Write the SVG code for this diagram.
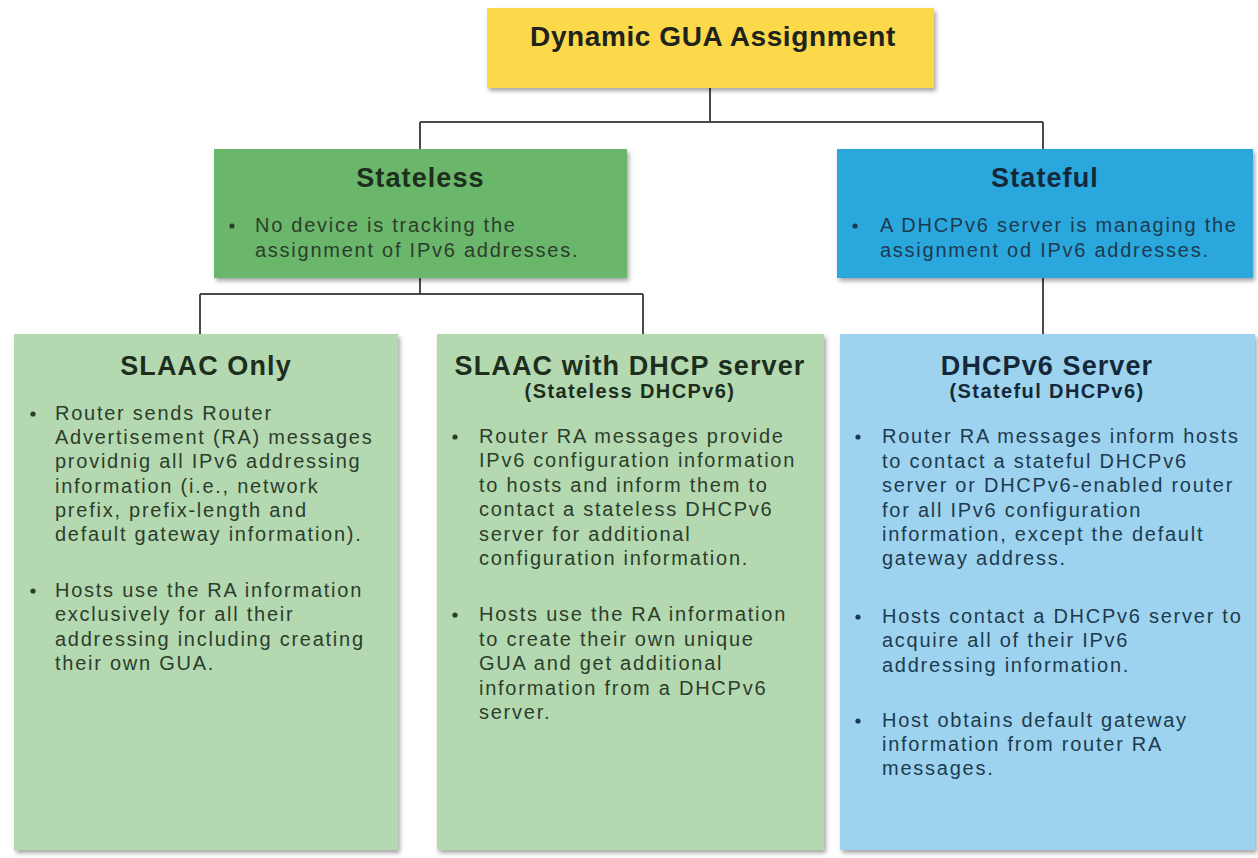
<svg xmlns="http://www.w3.org/2000/svg" width="1258" height="858" viewBox="0 0 1258 858">
<style>
.h{font-family:"Liberation Sans",Arial,sans-serif;font-weight:bold;text-anchor:middle;fill:#1e231e}
.h0{font-size:28px;letter-spacing:0.6px}
.h1{font-size:27px;letter-spacing:1.1px}
.h2{font-size:20px;letter-spacing:1.4px}
.t{font-family:"Liberation Sans",Arial,sans-serif;font-size:20px;letter-spacing:1.75px}
.g{fill:#2c3d2c}
.b{fill:#1d3a4e}
.hb{fill:#14283a}
.hg{fill:#1d2e1d}
.dg{fill:#2c3d2c}
.db{fill:#1d3a4e}
.conn{fill:none;stroke:#4a4a4a;stroke-width:2}
</style>
<defs>
<filter id="sh" x="-5%" y="-5%" width="115%" height="115%">
<feDropShadow dx="2" dy="3" stdDeviation="2" flood-color="#000" flood-opacity="0.35"/>
</filter>
</defs>
<rect width="1258" height="858" fill="#ffffff"/>
<g id="connectors">
<path class="conn" d="M710 88 V122 M420 122 H1043 M420 122 V149 M1043 122 V149"/>
<path class="conn" d="M420 278 V294 M200 294 H643 M200 294 V334 M643 294 V334"/>
<path class="conn" d="M1043 278 V334"/>
</g>
<g id="root">
<rect x="487" y="8" width="447" height="80" fill="#FCD94B" filter="url(#sh)"/>
<text class="h h0" x="713" y="46">Dynamic GUA Assignment</text>
</g>
<g id="stateless">
<rect x="214" y="149" width="413" height="129" fill="#6BB66A" filter="url(#sh)"/>
<text class="h h1 hg" x="420.5" y="187">Stateless</text>
<circle class="dg" cx="232" cy="226" r="2.6"/>
<text class="t g" x="255" y="232">No device is tracking the</text>
<text class="t g" x="255" y="257">assignment of IPv6 addresses.</text>
</g>
<g id="stateful">
<rect x="837" y="149" width="416" height="129" fill="#2AA8DE" filter="url(#sh)"/>
<text class="h h1 hb" x="1045" y="187">Stateful</text>
<circle class="db" cx="855" cy="226" r="2.6"/>
<text class="t b" x="880" y="232">A DHCPv6 server is managing the</text>
<text class="t b" x="880" y="257">assignment od IPv6 addresses.</text>
</g>
<g id="slaac-only">
<rect x="14" y="334" width="384" height="516" fill="#B4D9B0" filter="url(#sh)"/>
<text class="h h1 hg" x="206" y="375">SLAAC Only</text>
<circle class="dg" cx="33" cy="414" r="2.6"/>
<text class="t g" x="55" y="420">Router sends Router</text>
<text class="t g" x="55" y="444">Advertisement (RA) messages</text>
<text class="t g" x="55" y="468">providnig all IPv6 addressing</text>
<text class="t g" x="55" y="493">information (i.e., network</text>
<text class="t g" x="55" y="517">prefix, prefix-length and</text>
<text class="t g" x="55" y="541">default gateway information).</text>
<circle class="dg" cx="33" cy="591" r="2.6"/>
<text class="t g" x="55" y="597">Hosts use the RA information</text>
<text class="t g" x="55" y="621">exclusively for all their</text>
<text class="t g" x="55" y="646">addressing including creating</text>
<text class="t g" x="55" y="670">their own GUA.</text>
</g>
<g id="slaac-dhcp">
<rect x="437" y="334" width="387" height="516" fill="#B4D9B0" filter="url(#sh)"/>
<text class="h h1 hg" x="630" y="375">SLAAC with DHCP server</text>
<text class="h h2 hg" x="630" y="398">(Stateless DHCPv6)</text>
<circle class="dg" cx="455" cy="437" r="2.6"/>
<text class="t g" x="479" y="443">Router RA messages provide</text>
<text class="t g" x="479" y="467">IPv6 configuration information</text>
<text class="t g" x="479" y="492">to hosts and inform them to</text>
<text class="t g" x="479" y="516">contact a stateless DHCPv6</text>
<text class="t g" x="479" y="541">server for additional</text>
<text class="t g" x="479" y="565">configuration information.</text>
<circle class="dg" cx="455" cy="615" r="2.6"/>
<text class="t g" x="479" y="621">Hosts use the RA information</text>
<text class="t g" x="479" y="646">to create their own unique</text>
<text class="t g" x="479" y="670">GUA and get additional</text>
<text class="t g" x="479" y="695">information from a DHCPv6</text>
<text class="t g" x="479" y="719">server.</text>
</g>
<g id="dhcpv6-server">
<rect x="840" y="334" width="415" height="516" fill="#9DD3EE" filter="url(#sh)"/>
<text class="h h1 hb" x="1047" y="375">DHCPv6 Server</text>
<text class="h h2 hb" x="1047" y="398">(Stateful DHCPv6)</text>
<circle class="db" cx="858" cy="437" r="2.6"/>
<text class="t b" x="882" y="443">Router RA messages inform hosts</text>
<text class="t b" x="882" y="468">to contact a stateful DHCPv6</text>
<text class="t b" x="882" y="492">server or DHCPv6-enabled router</text>
<text class="t b" x="882" y="517">for all IPv6 configuration</text>
<text class="t b" x="882" y="541">information, except the default</text>
<text class="t b" x="882" y="565">gateway address.</text>
<circle class="db" cx="858" cy="617" r="2.6"/>
<text class="t b" x="882" y="623">Hosts contact a DHCPv6 server to</text>
<text class="t b" x="882" y="647">acquire all of their IPv6</text>
<text class="t b" x="882" y="672">addressing information.</text>
<circle class="db" cx="858" cy="721" r="2.6"/>
<text class="t b" x="882" y="727">Host obtains default gateway</text>
<text class="t b" x="882" y="751">information from router RA</text>
<text class="t b" x="882" y="775">messages.</text>
</g>
</svg>
